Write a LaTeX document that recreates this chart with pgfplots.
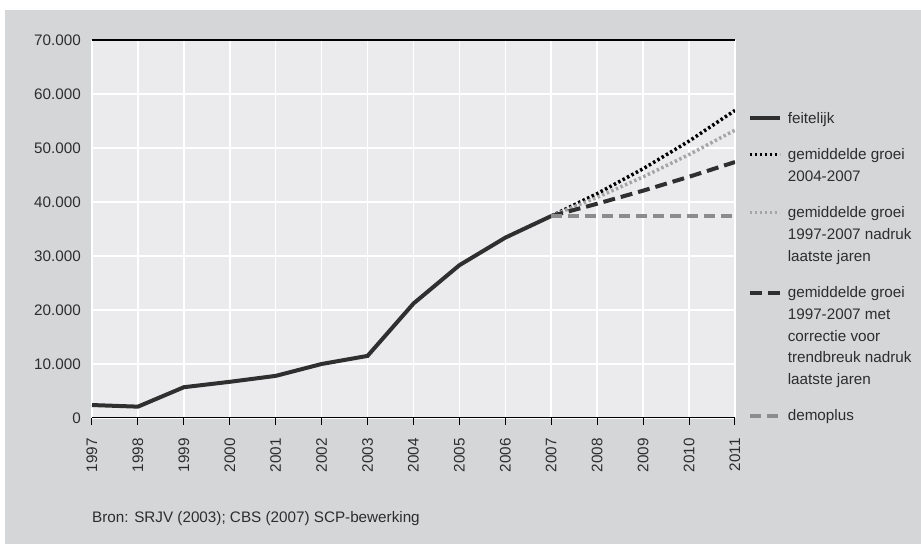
\documentclass[border=0pt]{standalone}
\usepackage{fontspec}
\setmainfont{Liberation Sans}[Scale=1.53]
\linespread{1.82}
\usepackage{pgfplots}
\pgfplotsset{compat=1.18}
\definecolor{outerbg}{RGB}{213,214,216}
\definecolor{plotbg}{RGB}{235,235,237}
\definecolor{txt}{RGB}{45,45,45}
\definecolor{feit}{RGB}{47,47,47}
\definecolor{lgray}{RGB}{165,165,165}
\definecolor{mgray}{RGB}{140,140,140}
% legend sample raised to the first line of a multi-line entry
\pgfplotsset{limg/.style={legend image code/.code={\draw[##1] (0bp,#1) -- (30bp,#1);}}}
\begin{document}
\begin{tikzpicture}[x=1bp,y=1bp]
\useasboundingbox (-92,-126) rectangle (829,418);
\fill[outerbg] (-87,-126) rectangle (829,408);
\begin{axis}[
    scale only axis,
    width=643bp, height=378bp,
    xmin=1997, xmax=2011, ymin=0, ymax=70000,
    xtick={1997,...,2011},
    ytick={0,10000,...,70000},
    axis background/.style={fill=plotbg},
    grid=major,
    major grid style={white, line width=1.5bp},
    axis line style={draw=none},
    xtick pos=bottom, ytick pos=left,
    tick align=outside,
    major tick length=7bp,
    xtick style={black, line width=1bp},
    ytick style={draw=none},
    scaled y ticks=false,
    /pgf/number format/.cd, 1000 sep={.}, assume math mode=true,
    /pgfplots/.cd,
    x tick label style={/pgf/number format/1000 sep={}},
    xticklabel style={rotate=90, anchor=east},
    xticklabel shift=8bp,
    yticklabel style={inner sep=2bp, xshift=-2bp},
    tick label style={text=txt},
    legend style={draw=none, fill=none, at={(1.015,0.82)}, anchor=north west,
        text=txt, row sep=19bp, column sep=4bp,
        cells={align=left, anchor=base west}},
    limg=5bp,
]
\addplot[feit, line width=4bp] coordinates {
  (1997,2400) (1998,2100) (1999,5700) (2000,6700) (2001,7800) (2002,10000)
  (2003,11500) (2004,21200) (2005,28300) (2006,33400) (2007,37400)};
\addlegendentry{feitelijk}
\addplot[black, line width=3.5bp, dash pattern=on 2.5bp off 2.5bp, limg=26.75bp] coordinates {
  (2007,37400) (2008,41550) (2009,46160) (2010,51280) (2011,56970)};
\addlegendentry{gemiddelde groei\\2004-2007}
\addplot[lgray, line width=3.5bp, dash pattern=on 2.5bp off 2.5bp, limg=48.5bp] coordinates {
  (2007,37400) (2008,40860) (2009,44650) (2010,48780) (2011,53300)};
\addlegendentry{gemiddelde groei\\1997-2007 nadruk\\laatste jaren}
\addplot[feit, line width=4bp, dash pattern=on 12bp off 6bp, limg=92bp] coordinates {
  (2007,37400) (2008,39680) (2009,42100) (2010,44670) (2011,47400)};
\addlegendentry{gemiddelde groei\\1997-2007 met\\correctie voor\\trendbreuk nadruk\\laatste jaren}
\addplot[mgray, line width=4bp, dash pattern=on 11bp off 6bp] coordinates {
  (2007,37400) (2008,37400) (2009,37400) (2010,37400) (2011,37400)};
\addlegendentry{demoplus}
\draw[black, line width=1.2bp] (rel axis cs:0,1) -- (rel axis cs:1,1);
\draw[black, line width=1.2bp] (rel axis cs:0,0) -- (rel axis cs:1,0);
\end{axis}
\node[anchor=base west, text=txt, inner sep=0pt] at (0,-105) {Bron: SRJV (2003); CBS (2007) SCP-bewerking};
\end{tikzpicture}
\end{document}
